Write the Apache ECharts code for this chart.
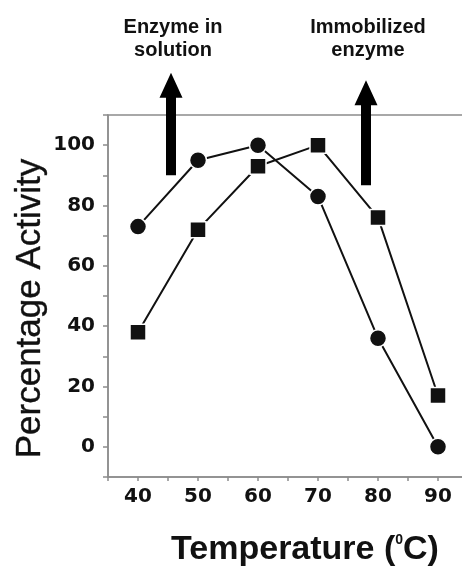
<!DOCTYPE html>
<html>
<head>
<meta charset="utf-8">
<script src="https://cdn.jsdelivr.net/npm/echarts@6/dist/echarts.min.js"></script>
<style>
  html, body { margin: 0; padding: 0; background: #ffffff; }
  #chart { width: 462px; height: 566px; }
</style>
</head>
<body>
<div id="chart"></div>
<script>
// Temperature profile of the free and the immobilized enzyme
const temperatures = [40, 50, 60, 70, 80, 90];
const freeEnzyme = [73, 95, 100, 83, 36, 0];          // circles
const immobilizedEnzyme = [38, 72, 93, 100, 76, 17];  // squares
const xTickLabels = [40, 50, 60, 70, 80, 90];
const yTickLabels = [0, 20, 40, 60, 80, 100];

// Optimum-temperature callouts (temperature, arrow base and tip in % activity)
const noteTexts = ['Enzyme in\nsolution', 'Immobilized\nenzyme'];
const noteTemps = [45.5, 78];
const noteBase = [90, 86.7];
const noteTip = [124, 121.5];

const ink = '#111111';
const axisGrey = '#8c8c8c';
const tickFont = 'DejaVu Sans';
const titleFont = 'Liberation Sans';

const chart = echarts.init(document.getElementById('chart'), null, { renderer: 'canvas' });

const pairs = (ys) => temperatures.map((t, i) => [t, ys[i]]);

chart.setOption({
  animation: false,
  backgroundColor: '#ffffff',
  grid: {
    left: 108, top: 115, right: -6, bottom: 89,
    outerBoundsMode: 'none', containLabel: false,
    show: true, borderColor: axisGrey, borderWidth: 1.5, backgroundColor: 'transparent'
  },
  xAxis: {
    type: 'value', min: 35, max: 95, interval: 5,
    axisLine: { show: true, onZero: false, lineStyle: { color: axisGrey, width: 1.5 } },
    axisTick: { show: true, inside: false, length: 4, lineStyle: { color: axisGrey, width: 1.5 } },
    splitLine: { show: false },
    axisLabel: {
      margin: 10, color: ink, fontFamily: tickFont, fontWeight: 'bold', fontSize: 20,
      formatter: (v) => (xTickLabels.indexOf(v) >= 0 ? String(v) : '')
    },
    name: 'Temperature ({sup|0}C)',
    nameLocation: 'middle', nameGap: 56,
    nameTextStyle: {
      color: ink, fontFamily: titleFont, fontWeight: 'bold', fontSize: 34,
      padding: [0, 0, 0, 34],
      rich: {
        sup: { fontFamily: titleFont, fontWeight: 'bold', fontSize: 14, color: ink, verticalAlign: 'top', lineHeight: 14 }
      }
    }
  },
  yAxis: {
    type: 'value', min: -10, max: 110, interval: 10,
    axisLine: { show: true, onZero: false, lineStyle: { color: axisGrey, width: 1.5 } },
    axisTick: { show: true, inside: false, length: 5, lineStyle: { color: axisGrey, width: 1.5 } },
    splitLine: { show: false },
    axisLabel: {
      margin: 13, color: ink, fontFamily: tickFont, fontWeight: 'bold', fontSize: 20,
      formatter: (v) => (yTickLabels.indexOf(v) >= 0 ? String(v) : '')
    },
    name: 'Percentage Activity',
    nameLocation: 'middle', nameGap: 60, nameRotate: 90, nameMoveOverlap: false,
    nameTextStyle: {
      color: ink, fontFamily: titleFont, fontWeight: 'normal', fontSize: 35,
      textBorderColor: ink, textBorderWidth: 0.35,
      padding: [0, 25, 0, 0]
    }
  },
  series: [
    {
      name: 'Enzyme in solution', type: 'line', data: pairs(freeEnzyme),
      symbol: 'circle', symbolSize: 17,
      lineStyle: { color: ink, width: 2 },
      itemStyle: { color: ink, borderColor: '#ffffff', borderWidth: 1.5 },
      clip: false, z: 2
    },
    {
      name: 'Immobilized enzyme', type: 'line', data: pairs(immobilizedEnzyme),
      symbol: 'rect', symbolSize: 16,
      lineStyle: { color: ink, width: 2 },
      itemStyle: { color: ink, borderColor: '#ffffff', borderWidth: 1.5 },
      clip: false, z: 3
    }
  ]
});

// Callout arrows and captions, placed through the axis scales
const graphics = [];
noteTemps.forEach((t, i) => {
  const base = chart.convertToPixel({ gridIndex: 0 }, [t, noteBase[i]]);
  const tip = chart.convertToPixel({ gridIndex: 0 }, [t, noteTip[i]]);
  const x = tip[0], ty = tip[1], by = base[1];
  const shaft = 5, head = 11.5, headLen = 25;
  graphics.push({
    type: 'polygon',
    shape: {
      points: [
        [x - shaft, by], [x - shaft, ty + headLen], [x - head, ty + headLen],
        [x, ty], [x + head, ty + headLen], [x + shaft, ty + headLen], [x + shaft, by]
      ]
    },
    style: { fill: '#000000' },
    z: 10
  });
  graphics.push({
    type: 'text',
    x: x + 2, y: 16,
    style: {
      text: noteTexts[i], fill: ink,
      font: 'bold 20px "Liberation Sans"',
      align: 'center', verticalAlign: 'top', lineHeight: 23
    },
    z: 10
  });
});
chart.setOption({ graphic: graphics });
</script>
</body>
</html>
